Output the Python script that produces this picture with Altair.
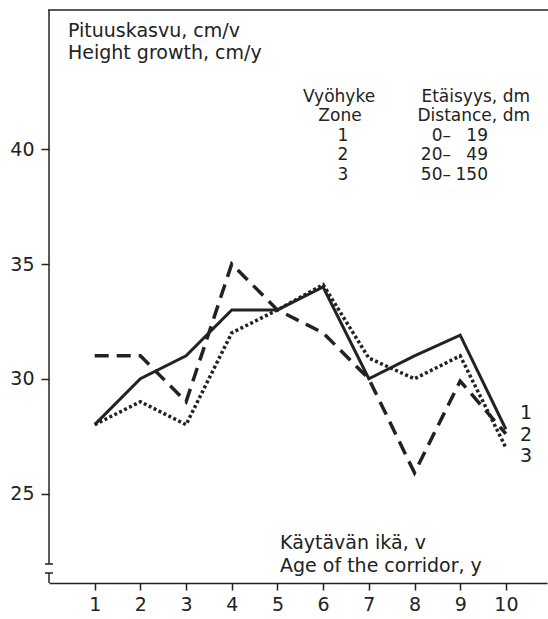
import altair as alt
import pandas as pd

# Height growth (cm/y) by corridor age for three distance zones
ages = [1, 2, 3, 4, 5, 6, 7, 8, 9, 10]
zone1 = [28, 30, 31, 33, 33, 34, 30, 31, 31.9, 27.8]
zone2 = [31, 31, 29, 35, 33, 32, 30, 25.9, 29.9, 27.6]
zone3 = [28, 29, 28, 32, 33, 34.1, 30.9, 30, 31, 27]

y_ticks = [25, 30, 35, 40]
x_ticks = ages

zone_names = ["1", "2", "3"]
range_start = ["0–", "20–", "50–"]
range_end = ["19", "49", "150"]

INK = "#222222"
FONT = "DejaVu Sans"
FS = 19
FS_TABLE = 17

W, H = 498, 573
X_DOM = [0, 10.9]
Y_DOM = [21.1, 46.07]

rows = []
for name, vals in zip(zone_names, [zone1, zone2, zone3]):
    for a, v in zip(ages, vals):
        rows.append({"zone": name, "age": a, "growth": v})
df = pd.DataFrame(rows)
one = pd.DataFrame({"k": [0]})

x = alt.X("age:Q", scale=alt.Scale(domain=X_DOM, nice=False, zero=False),
          axis=alt.Axis(values=x_ticks, title=None, grid=False, tickSize=7,
                        tickWidth=1.5, tickColor=INK, domainColor=INK,
                        domainWidth=1.5, labelFontSize=FS, labelFont=FONT,
                        labelColor=INK, labelPadding=5, labelFlush=False))
y = alt.Y("growth:Q", scale=alt.Scale(domain=Y_DOM, nice=False, zero=False),
          axis=alt.Axis(values=y_ticks, title=None, grid=False, domain=False,
                        tickSize=8, tickWidth=1.5, tickColor=INK,
                        labelFontSize=FS, labelFont=FONT, labelColor=INK,
                        labelPadding=7))

base = alt.Chart(df)

line1 = base.transform_filter(alt.datum.zone == "1").mark_line(
    color=INK, strokeWidth=3).encode(x=x, y=y)
line2 = base.transform_filter(alt.datum.zone == "2").mark_line(
    color=INK, strokeWidth=3.5, strokeDash=[14, 8]).encode(x=x, y=y)
line3 = base.transform_filter(alt.datum.zone == "3").mark_line(
    color=INK, strokeWidth=3.5, strokeDash=[3, 2.5]).encode(x=x, y=y)

# frame: top border and broken y axis
def rule(x1, y1, x2, y2, w=1.5):
    return alt.Chart(one).mark_rule(color=INK, strokeWidth=w).encode(
        x=alt.value(x1), y=alt.value(y1), x2=alt.value(x2), y2=alt.value(y2))

frame = [
    rule(-1, 0, 500, 0),
    rule(0, 0, 0, 554),
    rule(-4, 554, 4, 554),
    rule(-4, 563, 4, 563),
    rule(0, 563, 0, 573),
]

def label(text, xp, yp, align="left", size=FS):
    return alt.Chart(one).mark_text(
        text=text, font=FONT, fontSize=size, color=INK, align=align,
        baseline="middle").encode(x=alt.value(xp), y=alt.value(yp))

texts = [
    label("Pituuskasvu, cm/v", 19, 21),
    label("Height growth, cm/y", 19, 43),
    label("Käytävän ikä, v", 231, 533),
    label("Age of the corridor, y", 231, 556),
    # zone / distance table
    label("Vyöhyke", 290, 86.5, "center", FS_TABLE),
    label("Zone", 291, 106, "center", FS_TABLE),
    label("Etäisyys, dm", 481, 86.5, "right", FS_TABLE),
    label("Distance, dm", 481, 106, "right", FS_TABLE),
]
row_y = [125.5, 145, 164.5]
for name, rs, re_, ry in zip(zone_names, range_start, range_end, row_y):
    texts.append(label(name, 294, ry, "center", FS_TABLE))
    texts.append(label(rs, 402, ry, "right", FS_TABLE))
    texts.append(label(re_, 439, ry, "right", FS_TABLE))

# zone numbers at the line ends
for name, ly in zip(zone_names, [403, 425, 446]):
    texts.append(label(name, 477, ly, "center"))

chart = alt.layer(line1, line2, line3, *frame, *texts).properties(
    width=W, height=H,
    autosize=alt.AutoSizeParams(type="none"),
    padding={"left": 49, "top": 10, "right": 1, "bottom": 36},
    background="white",
).configure_view(stroke=None)

chart.save("out.html", embed_options={"renderer": "svg", "actions": False})
